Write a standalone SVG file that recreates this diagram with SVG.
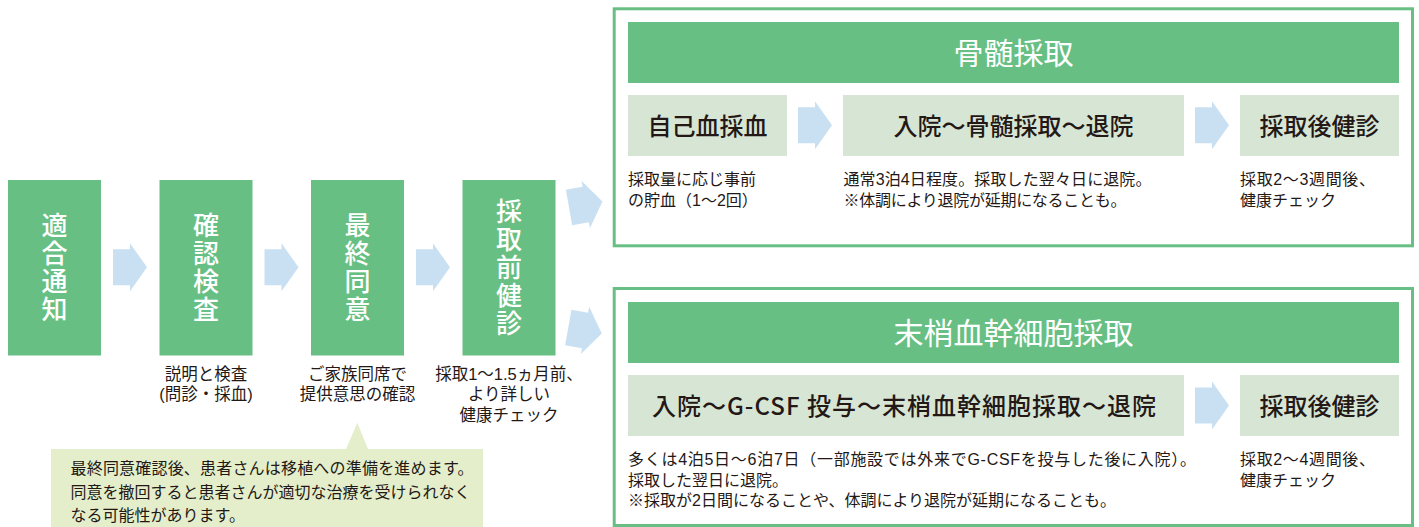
<svg xmlns="http://www.w3.org/2000/svg" width="1419" height="527" viewBox="0 0 1419 527">
<style>
text{font-family:"Noto Sans CJK JP","Noto Sans",sans-serif;}
.bg{fill:#ffffff;}
.step{fill:#67bf83;}
.vt{fill:#ffffff;font-size:26px;font-weight:500;text-anchor:middle;writing-mode:vertical-rl;letter-spacing:2px;}
.lbl{fill:#231815;font-size:16.5px;text-anchor:middle;font-family:"Liberation Sans","Noto Sans CJK JP",sans-serif;}
.frame{fill:none;stroke:#67bf83;stroke-width:3;}
.hdr{fill:#67bf83;}
.ht{fill:#ffffff;font-size:30px;text-anchor:middle;}
.sub{fill:#d7e5d4;}
.st{fill:#231815;font-size:24px;font-weight:500;text-anchor:middle;}
.note{fill:#231815;font-size:16px;font-family:"Liberation Sans","Noto Sans CJK JP",sans-serif;}
.arr{fill:#c9e0f3;}
.call{fill:#e4eecb;}
.ct{fill:#231815;font-size:16px;font-family:"Liberation Sans","Noto Sans CJK JP",sans-serif;}
</style>
<defs>
<path id="arrow" d="M0,-18 L17,-18 L17,-24 L34,0 L17,24 L17,18 L0,18 Z"/>
</defs>
<rect class="bg" x="0" y="0" width="1419" height="527"/>

<g id="connectors">
<use href="#arrow" class="arr" x="113" y="267.3"/>
<use href="#arrow" class="arr" x="264.5" y="267.3"/>
<use href="#arrow" class="arr" x="416" y="267.3"/>
<use href="#arrow" class="arr" transform="translate(569,207.5) rotate(-10)"/>
<use href="#arrow" class="arr" transform="translate(568.3,327.5) rotate(10)"/>
<use href="#arrow" class="arr" x="798" y="125.3"/>
<use href="#arrow" class="arr" x="1195" y="125.3"/>
<use href="#arrow" class="arr" x="1195" y="405.5"/>
</g>

<g id="node-tekigou">
<rect class="step" x="8" y="180" width="93" height="175.5"/>
<text class="vt" x="54.5" y="268.5">適合通知</text>
</g>

<g id="node-kakunin">
<rect class="step" x="159.5" y="180" width="93" height="175.5"/>
<text class="vt" x="206" y="268.5">確認検査</text>
<text class="lbl"><tspan x="206" y="379.5">説明と検査</tspan><tspan x="206" y="400">(問診・採血)</tspan></text>
</g>

<g id="node-saishu">
<rect class="step" x="311" y="180" width="93" height="175.5"/>
<text class="vt" x="357.5" y="268.5">最終同意</text>
<text class="lbl"><tspan x="357.5" y="379.5">ご家族同席で</tspan><tspan x="357.5" y="400">提供意思の確認</tspan></text>
</g>

<g id="node-kenshin">
<rect class="step" x="462.5" y="180" width="93" height="175.5"/>
<text class="vt" x="509" y="268.5">採取前健診</text>
<text class="lbl"><tspan x="509" y="379.5">採取1〜1.5ヵ月前、</tspan><tspan x="509" y="400">より詳しい</tspan><tspan x="509" y="420.5">健康チェック</tspan></text>
</g>

<g id="callout">
<path class="call" d="M51,449 L346,449 L357.3,422.7 L368,449 L483,449 L483,527 L51,527 Z"/>
<text class="ct"><tspan x="70.5" y="474" textLength="403" lengthAdjust="spacing">最終同意確認後、患者さんは移植への準備を進めます。</tspan><tspan x="70.5" y="497.5">同意を撤回すると患者さんが適切な治療を受けられなく</tspan><tspan x="70.5" y="521">なる可能性があります。</tspan></text>
</g>

<g id="group-bone-marrow">
<rect class="frame" x="614.2" y="8.8" width="798.3" height="237"/>
<rect class="hdr" x="628" y="22" width="771" height="61"/>
<text class="ht" x="1013.5" y="63.5">骨髄採取</text>
</g>
<g id="node-jikoketsu">
<rect class="sub" x="628" y="95" width="159" height="61"/>
<text class="st" x="707.5" y="134.6">自己血採血</text>
<text class="note"><tspan x="628" y="185">採取量に応じ事前</tspan><tspan x="628" y="205.5">の貯血（1〜2回）</tspan></text>
</g>
<g id="node-bm-nyuin">
<rect class="sub" x="843" y="95" width="341" height="61"/>
<text class="st" x="1013.5" y="134.6">入院〜骨髄採取〜退院</text>
<text class="note"><tspan x="843.5" y="185" textLength="308" lengthAdjust="spacing">通常3泊4日程度。採取した翌々日に退院。</tspan><tspan x="843.5" y="205.5" textLength="283" lengthAdjust="spacing">※体調により退院が延期になることも。</tspan></text>
</g>
<g id="node-bm-after">
<rect class="sub" x="1240" y="95" width="159" height="61"/>
<text class="st" x="1319.5" y="134.6">採取後健診</text>
<text class="note"><tspan x="1240" y="185" textLength="135" lengthAdjust="spacing">採取2〜3週間後、</tspan><tspan x="1240" y="205.5">健康チェック</tspan></text>
</g>

<g id="group-pbsc">
<rect class="frame" x="614.2" y="288.5" width="798.3" height="237"/>
<rect class="hdr" x="628" y="302" width="771" height="61"/>
<text class="ht" x="1013.5" y="343.5">末梢血幹細胞採取</text>
</g>
<g id="node-pb-nyuin">
<rect class="sub" x="628" y="375" width="556" height="61"/>
<text class="st" x="652" y="414.6" style="text-anchor:start" textLength="504" lengthAdjust="spacing">入院〜G-CSF 投与〜末梢血幹細胞採取〜退院</text>
<text class="note"><tspan x="628" y="465" textLength="568" lengthAdjust="spacing">多くは4泊5日〜6泊7日（一部施設では外来でG-CSFを投与した後に入院）。</tspan><tspan x="628" y="485.5">採取した翌日に退院。</tspan><tspan x="628" y="506">※採取が2日間になることや、体調により退院が延期になることも。</tspan></text>
</g>
<g id="node-pb-after">
<rect class="sub" x="1240" y="375" width="159" height="61"/>
<text class="st" x="1319.5" y="414.6">採取後健診</text>
<text class="note"><tspan x="1240" y="465" textLength="135" lengthAdjust="spacing">採取2〜4週間後、</tspan><tspan x="1240" y="485.5">健康チェック</tspan></text>
</g>
</svg>
